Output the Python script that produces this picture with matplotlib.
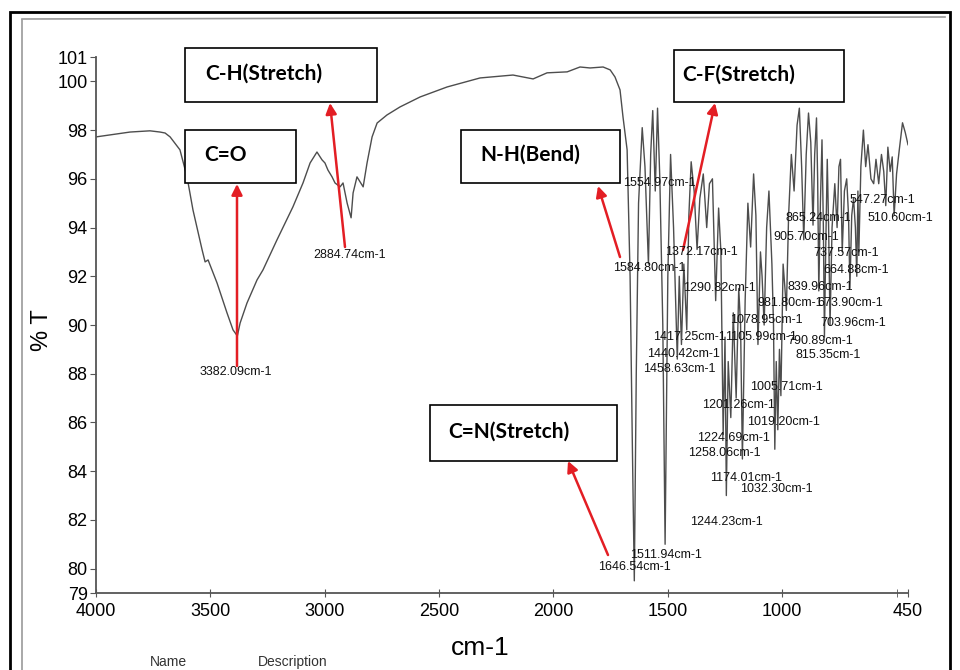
import matplotlib
matplotlib.use('Agg')
import matplotlib.pyplot as plt
from matplotlib.patches import Rectangle

W, H = 960, 670

# spectrum: wavenumber (cm-1) and %T
wavenumber = [
    4000, 3851, 3764, 3720, 3698, 3676, 3633, 3602, 3576, 3536, 3523, 3510,
    3471, 3427, 3401, 3382.09, 3370, 3340, 3296, 3270, 3209, 3152, 3139, 3095,
    3064, 3034, 3012, 2999, 2986, 2968, 2955, 2933, 2920, 2902, 2884.74, 2876,
    2859, 2846, 2832, 2815, 2793, 2771, 2728, 2671, 2583, 2465, 2321, 2177,
    2089, 2028, 1940, 1884, 1840, 1783, 1752, 1731, 1709, 1696, 1678,
    1665, 1655, 1646.54, 1638, 1628, 1612, 1600, 1584.80, 1575, 1566, 1554.97,
    1545, 1535, 1522, 1511.94, 1500, 1488, 1475, 1458.63, 1450, 1440.42, 1430,
    1417.25, 1408, 1398, 1385, 1372.17, 1360, 1345, 1330, 1318, 1305, 1290.82,
    1278, 1268, 1258.06, 1250, 1244.23, 1236, 1224.69, 1214, 1201.26, 1190,
    1182, 1174.01, 1162, 1150, 1138, 1125, 1115, 1105.99, 1095, 1088, 1078.95,
    1068, 1058, 1045, 1038, 1032.30, 1026, 1019.20, 1012, 1005.71, 996, 988,
    981.80, 972, 960, 948, 935, 925, 915, 905.70, 895, 885, 875, 865.24, 858,
    850, 845, 839.96, 833, 826, 820, 815.35, 810, 803, 797, 790.89, 782, 770,
    760, 752, 745, 737.57, 728, 718, 710, 703.96, 696, 688, 680, 673.90, 669,
    664.88, 656, 645, 635, 625, 612, 600, 590, 578, 566, 556, 547.27, 538, 528,
    519, 510.60, 500, 488, 474, 462, 450,
]
transmittance = [
    97.72, 97.92, 97.97, 97.92, 97.88, 97.72, 97.19, 96.08, 94.72, 93.08, 92.59, 92.67,
    91.73, 90.49, 89.80, 89.55, 90.08, 90.90, 91.85, 92.26, 93.49, 94.60, 94.85, 95.83,
    96.65, 97.10, 96.78, 96.65, 96.36, 96.08, 95.83, 95.67, 95.83, 95.00, 94.40, 95.42,
    96.08, 95.88, 95.67, 96.65, 97.72, 98.29, 98.62, 98.95, 99.36, 99.77, 100.14, 100.26,
    100.10, 100.35, 100.39, 100.59, 100.55, 100.59, 100.47, 100.18, 99.65, 98.54, 97.19,
    92.0, 85.0, 79.5, 88.0, 95.0, 98.1, 96.5, 92.5, 97.0, 98.8, 95.5,
    98.9, 96.0, 90.0, 81.0, 92.0, 97.0, 94.0, 88.6, 92.0, 89.2, 92.5,
    89.8, 94.5, 96.7, 95.5, 93.1, 95.2, 96.2, 94.0, 95.8, 96.0, 91.0,
    94.8, 93.0, 85.5, 89.5, 83.0, 88.5, 86.2, 90.5, 87.0, 91.5,
    90.0, 84.5, 91.0, 95.0, 93.2, 96.2, 94.5, 89.2, 93.0, 92.0, 90.0,
    94.0, 95.5, 92.5, 90.0, 84.9, 88.5, 85.7, 89.0, 87.1, 92.5, 91.5,
    90.6, 94.5, 97.0, 95.5, 98.2, 98.9, 96.5, 93.5, 97.0, 98.7, 97.5, 94.1, 97.0,
    98.5, 96.0, 91.4, 95.0, 97.6, 94.0, 89.5, 93.0, 96.8, 94.0, 90.0, 94.0, 95.8,
    94.0, 96.5, 96.8, 93.0, 95.5, 96.0, 94.5, 91.5, 94.5, 95.2, 94.0, 92.0, 95.5,
    93.0, 96.5, 98.0, 96.5, 97.4, 96.0, 95.8, 96.8, 95.8, 97.0, 96.3, 94.9, 97.3, 96.3,
    96.9, 94.5, 96.2, 97.2, 98.3, 97.9, 97.4,
]

# picked peaks (cm-1) and where the instrument printed their labels (pixels)
peak_wn = [3382.09, 2884.74, 1554.97, 1584.80, 1372.17, 1290.82, 865.24, 547.27,
           510.60, 905.70, 737.57, 664.88, 839.96, 981.80, 673.90, 1078.95,
           703.96, 1417.25, 1105.99, 790.89, 1440.42, 815.35, 1458.63, 1005.71,
           1201.26, 1019.20, 1224.69, 1258.06, 1174.01, 1032.30, 1244.23,
           1511.94, 1646.54]
peak_label_px = [(200, 372), (313, 255), (623, 183), (613, 268), (665, 252),
                 (683, 288), (785, 218), (850, 200), (868, 218), (773, 237),
                 (813, 253), (823, 270), (787, 287), (757, 303), (817, 303),
                 (730, 320), (820, 323), (653, 337), (725, 337), (787, 341),
                 (647, 354), (795, 355), (643, 369), (750, 387), (702, 405),
                 (747, 422), (697, 438), (688, 453), (710, 478), (740, 489),
                 (690, 522), (630, 555), (598, 567)]

# functional group call-outs
groups = ['C=O', 'C-H(Stretch)', 'N-H(Bend)', 'C-F(Stretch)', 'C=N(Stretch)']
group_box_px = [(185, 130, 296, 183), (185, 48, 377, 102), (461, 130, 620, 183),
                (674, 50, 844, 102), (430, 405, 617, 461)]
group_text_px = [(204, 155), (205, 74), (480, 155), (682, 75), (448, 432)]
arrow_tail_px = [(237, 366), (345, 247), (620, 257), (683, 250), (608, 555)]
arrow_head_px = [(237, 184), (330, 103), (598, 186), (715, 103), (568, 461)]

yticks = [79, 80, 82, 84, 86, 88, 90, 92, 94, 96, 98, 100, 101]
xticks = [4000, 3500, 3000, 2500, 2000, 1500, 1000, 450]

sans = ['Liberation Sans', 'DejaVu Sans']


def fx(x):
    return x / W


def fy(y):
    return 1 - y / H


fig = plt.figure(figsize=(W / 100, H / 100), dpi=100)
fig.patch.set_facecolor('white')

# page frame of the scan
fig.add_artist(Rectangle((fx(10), fy(700)), fx(940), (700 - 12) / H, fill=False,
                         edgecolor='black', lw=2, transform=fig.transFigure))
fig.add_artist(plt.Line2D([fx(22), fx(22)], [fy(20), fy(700)], color='#9a9a9a',
                          lw=1.2, transform=fig.transFigure))
fig.add_artist(plt.Line2D([fx(22), fx(945)], [fy(19), fy(17)], color='#9a9a9a',
                          lw=1.2, transform=fig.transFigure))

ax = fig.add_axes([fx(96), fy(593), (908 - 96) / W, (593 - 57) / H])
ax.plot(wavenumber, transmittance, color='#4d4d4d', lw=1.0)
ax.set_xlim(4000, 450)
ax.set_ylim(79, 101)
ax.set_xticks(xticks)
ax.set_xticks([500], minor=True)
ax.set_xticklabels([str(t) for t in xticks], family=sans, fontsize=13)
ax.set_yticks(yticks)
ax.set_yticklabels([str(t) for t in yticks], family=sans, fontsize=13)
ax.tick_params(axis='x', which='both', direction='inout', length=6, color='#555555', pad=4)
ax.tick_params(axis='y', direction='out', length=4, color='#555555', pad=2)
for side in ('top', 'right'):
    ax.spines[side].set_visible(False)
for side in ('left', 'bottom'):
    ax.spines[side].set_color('#555555')
    ax.spines[side].set_linewidth(1.3)
ax.set_facecolor('none')

fig.text(fx(480), fy(648), 'cm-1', family=sans, fontsize=19, ha='center', va='center')
fig.text(fx(42), fy(330), '% T', family=sans, fontsize=17, ha='center', va='center',
         rotation=90)

for w, (px, py) in zip(peak_wn, peak_label_px):
    fig.text(fx(px), fy(py), f'{w:.2f}cm-1', family=sans, fontsize=9,
             ha='left', va='center', color='#111111')

for name, (x0, y0, x1, y1), (tx, ty) in zip(groups, group_box_px, group_text_px):
    fig.add_artist(Rectangle((fx(x0), fy(y1)), (x1 - x0) / W, (y1 - y0) / H,
                             facecolor='white', edgecolor='black', lw=1.2,
                             transform=fig.transFigure))
    fig.text(fx(tx), fy(ty), name, family=['Lato', 'DejaVu Sans'], fontweight='bold',
             fontsize=15, ha='left', va='center')

for (sx, sy), (hx, hy) in zip(arrow_tail_px, arrow_head_px):
    ax.annotate('', xy=(fx(hx), fy(hy)), xytext=(fx(sx), fy(sy)),
                xycoords='figure fraction', textcoords='figure fraction',
                annotation_clip=False,
                arrowprops=dict(arrowstyle='-|>', color='#e31e24', lw=1.8,
                                mutation_scale=16, shrinkA=0, shrinkB=0))

# table header at the bottom edge of the scan
fig.text(fx(150), fy(669), 'Name', family=sans, fontsize=10, va='bottom', color='#333333')
fig.text(fx(258), fy(669), 'Description', family=sans, fontsize=10, va='bottom',
         color='#333333')

fig.savefig('out.png', dpi=100)
